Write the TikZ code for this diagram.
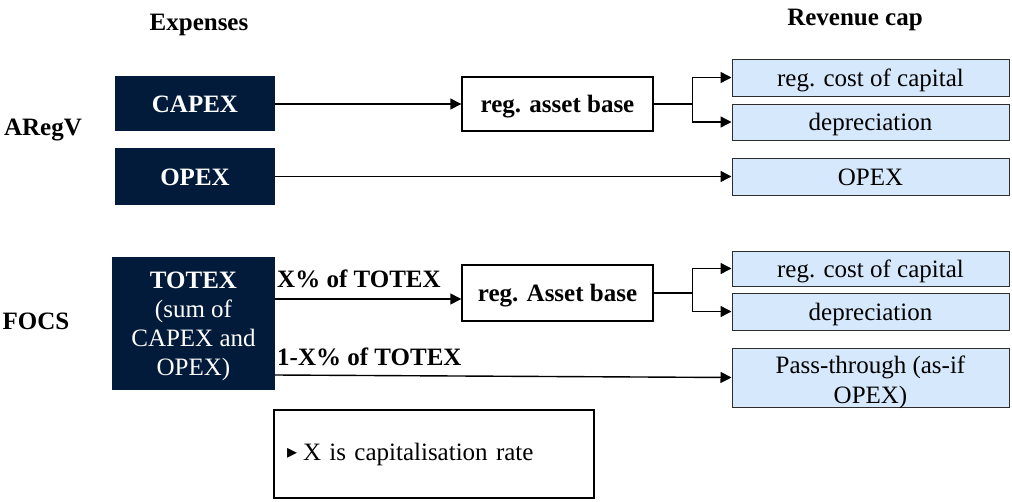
\documentclass[tikz,border=0pt]{standalone}
\usepackage{fontspec}
\setmainfont{Liberation Serif}
\newfontfamily\symfont{DejaVu Sans}
\usetikzlibrary{arrows.meta,calc}
\definecolor{navy}{RGB}{2,27,58}
\definecolor{lblue}{RGB}{214,233,252}
\definecolor{bgray}{RGB}{45,45,45}
\begin{document}
\begin{tikzpicture}[x=1pt,y=-1pt,
  every node/.style={font=\fontsize{25}{29}\selectfont, inner sep=0pt, align=center},
  oneline/.style={text height=21pt, text depth=4pt},
  bfnode/.style={oneline, font=\fontsize{25}{29}\selectfont\bfseries},
  darkbox/.style={fill=navy, text=white, font=\fontsize{25}{29}\selectfont\bfseries},
  whitebox/.style={oneline, draw=black, line width=1.4pt, fill=white, font=\fontsize{25}{29}\selectfont\bfseries},
  bluebox/.style={draw=bgray, line width=1pt, fill=lblue, minimum width=277pt},
  arr/.style={line width=1.4pt, -{Triangle[length=11pt,width=11pt]}},
  ln/.style={line width=1.4pt, line cap=rect}
]
\useasboundingbox (0,0) rectangle (1012,501);

% titles
\node[bfnode] (exp) at (199,22) {Expenses};
\node[bfnode] (rev) at (855,17) {Revenue cap};
\node[bfnode] (aregv) at (43,127) {ARegV};
\node[bfnode] (focs) at (36,321) {FOCS};

% ARegV row
\node[darkbox, oneline, minimum width=160pt, minimum height=55pt] (capex) at (195,103.5) {CAPEX};
\node[darkbox, oneline, minimum width=160pt, minimum height=57pt] (opex) at (195,176.5) {OPEX};
\node[whitebox, minimum width=191pt, minimum height=54pt] (rab1) at (557.5,104) {reg. asset base};
\node[bluebox, oneline, minimum height=37pt] (rcc1) at (870.5,77.5) {reg. cost of capital};
\node[bluebox, oneline, minimum height=36pt] (dep1) at (870.5,122) {depreciation};
\node[bluebox, oneline, minimum height=37pt] (opexr) at (870.5,176.5) {OPEX};

\draw[arr] (capex.east |- rab1.west) -- (rab1.west);
\draw[arr] (opex.east) -- (opexr.west);
\draw[ln] (rab1.east) -- ++(39,0) coordinate (b1);
\draw[ln] (b1 |- rcc1.west) -- (b1 |- dep1.west);
\draw[arr] (b1 |- rcc1.west) -- (rcc1.west);
\draw[arr] (b1 |- dep1.west) -- (dep1.west);

% FOCS row
\node[darkbox, minimum width=163pt, minimum height=133pt] (totex) at (193.5,323.5) {};
\node[text=white, font=\fontsize{25}{29}\selectfont] (totextxt) at ($(totex)+(0,3)$)
  {\bfseries TOTEX\\(sum of\\CAPEX and\\OPEX)};
\node[whitebox, minimum width=191pt, minimum height=56pt] (rab2) at (557.5,293) {reg. Asset base};
\node[bluebox, oneline, minimum height=35pt] (rcc2) at (870.5,268.5) {reg. cost of capital};
\node[bluebox, oneline, minimum height=37pt] (dep2) at (870.5,311.5) {depreciation};
\node[bluebox, minimum height=59pt] (pass) at (870.5,377.5) {};
\node[font=\fontsize{25}{30}\selectfont] (passtxt) at ($(pass)+(0,4.5)$) {Pass-through (as-if\\OPEX)};

\draw[arr] ($(rab2.west)+(0,6)$) coordinate (t1) (totex.east |- t1) -- (t1);
\draw[arr] ($(totex.east)+(0,51.5)$) -- (pass.west);
\draw[ln] (rab2.east) -- ++(39,0) coordinate (b2);
\draw[ln] (b2 |- rcc2.west) -- (b2 |- dep2.west);
\draw[arr] (b2 |- rcc2.west) -- (rcc2.west);
\draw[arr] (b2 |- dep2.west) -- (dep2.west);

\node[bfnode, anchor=west] (lab1) at (277,279) {X\% of TOTEX};
\node[bfnode, anchor=west] (lab2) at (277,357) {1-X\% of TOTEX};

% note
\node[draw=black, line width=1.4pt, minimum width=320pt, minimum height=88pt,
      inner xsep=13pt, text width=294pt, align=left] (note) at (434,454)
  {\raisebox{2pt}{\symfont\fontsize{20}{20}\selectfont ▸}\hspace{6pt}X is capitalisation rate};
\end{tikzpicture}
\end{document}
